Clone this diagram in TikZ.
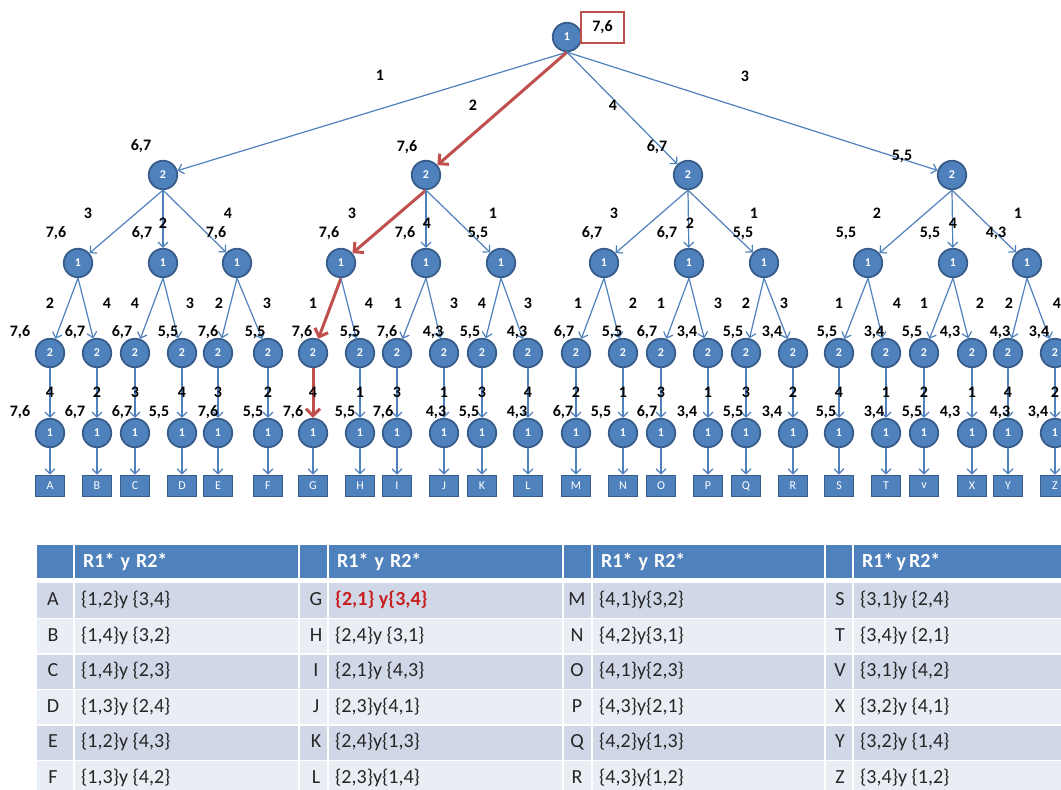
\documentclass[tikz,border=0pt]{standalone}
\usepackage{fontspec}
\setmainfont{Carlito}
\usetikzlibrary{arrows.meta}
\definecolor{nblue}{RGB}{79,129,189}
\definecolor{nborder}{RGB}{56,93,138}
\definecolor{ered}{RGB}{192,80,77}
\definecolor{gred}{RGB}{200,30,30}
\definecolor{rowA}{RGB}{208,216,232}
\definecolor{rowB}{RGB}{233,237,244}
\newcommand\labfont{\fontsize{16}{16}\selectfont\bfseries}
\newcommand\tabfont{\fontsize{20}{20}\selectfont}
\tikzset{
  gnode/.style={circle, fill=nblue, draw=nborder, line width=1.8pt, minimum size=28.5pt, inner sep=0pt,
    text=white, font=\fontsize{12}{12}\selectfont\bfseries},
  leafbox/.style={rectangle, fill=nblue, draw=nborder, line width=1.8pt, minimum width=29pt, minimum height=21pt,
    inner sep=0pt, text=white, font=\fontsize{12}{12}\selectfont},
  bedge/.style={draw=nblue, line width=1.2pt, -{Straight Barb[length=5pt,width=10pt,line width=1.2pt]}},
  redge/.style={draw=ered, line width=3pt, -{Straight Barb[length=7pt,width=14pt,line width=3pt]}},
  lab/.style={inner sep=0pt, text=black, font=\labfont},
  tcell/.style={inner sep=0pt, text=black!85, font=\tabfont, text height=14pt, text depth=4pt},
  thead/.style={inner sep=0pt, text=white, font=\tabfont\bfseries, text height=14pt, text depth=4pt, anchor=west},
}
\begin{document}
\begin{tikzpicture}[x=1pt,y=-1pt]
\clip (0,0) rectangle (1061,790);
\fill[white] (0,0) rectangle (1061,790);
% ---------------- tree ----------------
\node[gnode] (r) at (567,37) {1};
\node[draw=ered, line width=2.5pt, minimum width=43pt, minimum height=31pt, inner sep=0pt, font=\labfont] (rv) at (602.5,27.5) {7,6};
\foreach \n/\x in {1/163,2/426,3/688,4/952}
  \node[gnode] (a\n) at (\x,175) {2};
\draw[bedge] (r.south) -- (a1);
\draw[redge] (r.south) -- (a2);
\draw[bedge] (r.south) -- (a3);
\draw[bedge] (r.south) -- (a4);
\foreach \i/\x/\y/\z in {1/78/163/237, 2/341/426/501, 3/604/689/764, 4/868/953/1027} {
  \node[gnode] (b\i1) at (\x,263) {1};
  \node[gnode] (b\i2) at (\y,263) {1};
  \node[gnode] (b\i3) at (\z,263) {1};
}
\foreach \i in {1,...,4} {
  \foreach \j in {1,2,3} {
    \ifnum\i\j=21
      \draw[redge] (a\i.south) -- (b\i\j);
    \else
      \draw[bedge] (a\i.south) -- (b\i\j);
    \fi
  }
}
\foreach \i/\j/\k/\x/\lf/\u in {
  1/1/1/50/A/4, 1/1/2/97/B/2, 1/2/1/135/C/3, 1/2/2/182/D/4, 1/3/1/218/E/3, 1/3/2/268/F/2,
  2/1/1/313/G/4, 2/1/2/360/H/1, 2/2/1/397/I/3, 2/2/2/444/J/1, 2/3/1/482/K/3, 2/3/2/528/L/4,
  3/1/1/576/M/2, 3/1/2/623/N/1, 3/2/1/661/O/3, 3/2/2/708/P/1, 3/3/1/746/Q/3, 3/3/2/793/R/2,
  4/1/1/839/S/4, 4/1/2/886/T/1, 4/2/1/924/v/2, 4/2/2/972/X/1, 4/3/1/1008/Y/4, 4/3/2/1055/Z/2} {
  \node[gnode] (c\i\j\k) at (\x,353) {2};
  \node[gnode] (d\i\j\k) at (\x,433) {1};
  \node[leafbox] (e\i\j\k) at (\x,486) {\lf};
  \ifnum\i\j\k=211
    \draw[redge] (b\i\j.south) -- (c\i\j\k);
    \draw[redge] (c\i\j\k.south) -- (d\i\j\k);
  \else
    \draw[bedge] (b\i\j.south) -- (c\i\j\k);
    \draw[bedge] (c\i\j\k.south) -- (d\i\j\k);
  \fi
  \draw[bedge] (d\i\j\k.south) -- (e\i\j\k.north);
  \node[lab] (u\i\j\k) at (\x,392) {\u};
}
% labels, root level
\node[lab] (l1) at (380,75) {1};
\node[lab] (l2) at (473,105) {2};
\node[lab] (l3) at (613,105) {4};
\node[lab] (l4) at (745,76) {3};
\node[lab] (p1) at (141,146) {6,7};
\node[lab] (p2) at (407,147) {7,6};
\node[lab] (p3) at (657,147) {6,7};
\node[lab] (p4) at (902,156) {5,5};
% labels L1 -> L2
\foreach \x/\y/\t [count=\n] in {88/213/3, 163/223/2, 228/213/4, 352/213/3, 427/223/4, 493/213/1,
  614/213/3, 690/223/2, 754/213/1, 877/213/2, 953/223/4, 1018/213/1}
  \node[lab] (m\n) at (\x,\y) {\t};
\foreach \x/\a/\b [count=\n] in {56/7/6, 142/6/7, 216/7/6, 329/7/6, 405/7/6, 478/5/5,
  592/6/7, 667/6/7, 743/5/5, 846/5/5, 930/5/5, 996/4/3}
  \node[lab] (w\n) at (\x,233) {\a,\b};
% labels L2 -> L3
\foreach \x/\t [count=\n] in {50/2,107/4,135/4,190/3,219/2,267/3,313/1,369/4,398/1,454/3,482/4,528/3,
  578/1,633/2,661/1,718/3,746/2,784/3,839/1,897/4,924/1,980/2,1009/2,1057/4}
  \node[lab] (k\n) at (\x,303) {\t};
% payoffs L3 and L4
\foreach \x/\z/\a/\b [count=\n] in {
  20/20/7/6, 75/75/6/7, 122/122/6/7, 168/159/5/5, 208/208/7/6, 255/253/5/5,
  302/293/7/6, 350/345/5/5, 387/383/7/6, 433/436/4/3, 470/469/5/5, 517/517/4/3,
  564/563/6/7, 612/601/5/5, 647/647/6/7, 687/687/3/4, 733/733/5/5, 772/772/3/4,
  827/826/5/5, 874/874/3/4, 912/912/5/5, 950/950/4/3, 1000/1000/4/3, 1039/1038/3/4} {
  \node[lab] (x\n) at (\x,332) {\a,\b};
  \node[lab] (z\n) at (\z,412) {\a,\b};
}
% ---------------- table ----------------
\fill[nblue] (37,545) rectangle (1061,578);
\foreach \r/\col in {0/rowA,1/rowB,2/rowA,3/rowB,4/rowA,5/rowB}
  \fill[\col] (37,{583+35.5*\r}) rectangle (1061,{618.5+35.5*\r});
\foreach \x in {74,299,328,563,592,825,853}
  \draw[white, line width=2pt] (\x,545) -- (\x,790);
\foreach \r in {1,...,5}
  \draw[white, line width=1.5pt] (37,{583+35.5*\r}) -- (1061,{583+35.5*\r});
\node[thead] (h1) at (83,562) {R1*\hspace{6pt}y\hspace{6pt}R2*};
\node[thead] (h2) at (337,562) {R1*\hspace{6pt}y\hspace{6pt}R2*};
\node[thead] (h3) at (601,562) {R1*\hspace{6pt}y\hspace{6pt}R2*};
\node[thead] (h4) at (862,562) {R1*\hspace{3pt}y\hspace{3pt}R2*};
\foreach \r/\L/\a/\b/\c/\d in {0/A/1/2/3/4, 1/B/1/4/3/2, 2/C/1/4/2/3, 3/D/1/3/2/4, 4/E/1/2/4/3, 5/F/1/3/4/2} {
  \node[tcell] (ta\r) at (53,{600.5+35.5*\r}) {\L};
  \node[tcell, anchor=west] (tb\r) at (81,{600.5+35.5*\r}) {\{\a,\b\}y \{\c,\d\}};
}
\node[tcell] (tg0) at (316,600.5) {G};
\node[tcell, anchor=west, text=gred, font=\tabfont\bfseries] (th0) at (335,600.5) {\{2,1\} y\{3,4\}};
\foreach \r/\L/\a/\b/\c/\d in {1/H/2/4/3/1, 2/I/2/1/4/3} {
  \node[tcell] (tg\r) at (316,{600.5+35.5*\r}) {\L};
  \node[tcell, anchor=west] (th\r) at (335,{600.5+35.5*\r}) {\{\a,\b\}y \{\c,\d\}};
}
\foreach \r/\L/\a/\b/\c/\d in {3/J/2/3/4/1, 4/K/2/4/1/3, 5/L/2/3/1/4} {
  \node[tcell] (tg\r) at (316,{600.5+35.5*\r}) {\L};
  \node[tcell, anchor=west] (th\r) at (335,{600.5+35.5*\r}) {\{\a,\b\}y\{\c,\d\}};
}
\foreach \r/\L/\a/\b/\c/\d in {0/M/4/1/3/2, 1/N/4/2/3/1, 2/O/4/1/2/3, 3/P/4/3/2/1, 4/Q/4/2/1/3, 5/R/4/3/1/2} {
  \node[tcell] (tm\r) at (577,{600.5+35.5*\r}) {\L};
  \node[tcell, anchor=west] (tn\r) at (599,{600.5+35.5*\r}) {\{\a,\b\}y\{\c,\d\}};
}
\foreach \r/\L/\a/\b/\c/\d in {0/S/3/1/2/4, 1/T/3/4/2/1, 2/V/3/1/4/2, 3/X/3/2/4/1, 4/Y/3/2/1/4, 5/Z/3/4/1/2} {
  \node[tcell] (ts\r) at (840,{600.5+35.5*\r}) {\L};
  \node[tcell, anchor=west] (tt\r) at (860,{600.5+35.5*\r}) {\{\a,\b\}y \{\c,\d\}};
}
\end{tikzpicture}
\end{document}
